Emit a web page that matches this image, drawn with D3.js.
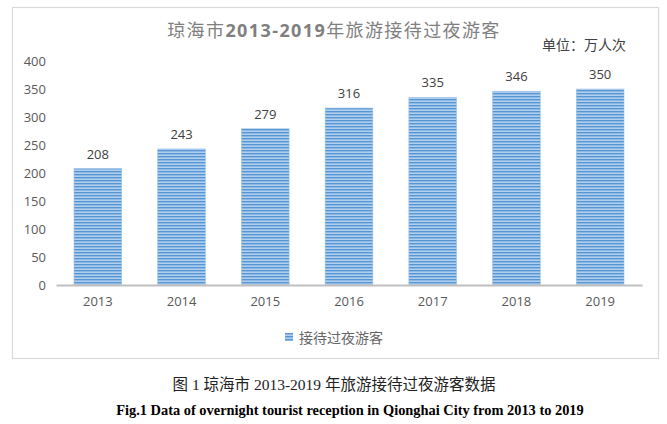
<!DOCTYPE html>
<html><head><meta charset="utf-8">
<script src="https://cdn.jsdelivr.net/npm/d3@7"></script>
<style>body{margin:0;background:#fff;}</style>
</head><body>
<svg id="c" width="667" height="424"></svg>
<script>
const categories = ["2013","2014","2015","2016","2017","2018","2019"];
const values = [208,243,279,316,335,346,350];
const yTicks = [0,50,100,150,200,250,300,350,400];
const seriesName = "接待过夜游客";
const titleParts = [["琼海市",false],["2013-2019",true],["年旅游接待过夜游客",false]];
const unitText = "单位：万人次";
const captionCN = "图 1 琼海市 2013-2019 年旅游接待过夜游客数据";
const captionEN = "Fig.1 Data of overnight tourist reception in Qionghai City from 2013 to 2019";

const svg = d3.select("#c");
const defs = svg.append("defs");
const pat = defs.append("pattern").attr("id","stripe").attr("patternUnits","userSpaceOnUse")
  .attr("width",4).attr("height",3);
pat.append("rect").attr("width",4).attr("height",3).attr("fill","#8db8e3");
pat.append("rect").attr("y",0).attr("width",4).attr("height",1).attr("fill","#5596d3");
pat.append("rect").attr("y",2).attr("width",4).attr("height",1).attr("fill","#b0cfee");

// border
svg.append("rect").attr("x",12.5).attr("y",7.5).attr("width",646).attr("height",351)
  .attr("fill","#fff").attr("stroke","#d9d9d9").attr("stroke-width",1.2);

const x = d3.scaleBand().domain(categories).range([56,642]).paddingInner(0.43).paddingOuter(0.215);
const y = d3.scaleLinear().domain([0,400]).range([285,61]);

// y axis labels
const ya = svg.append("g").attr("transform","translate(46,0)")
  .call(d3.axisLeft(y).tickValues(yTicks).tickSize(0).tickPadding(0));
ya.select(".domain").remove();
ya.selectAll("text").attr("font-family","Open Sans, Liberation Sans, sans-serif").attr("font-size",13).attr("fill","#595959");

// bars
svg.selectAll(".bar").data(values).enter().append("rect")
  .attr("x",(d,i)=>x(categories[i])).attr("y",d=>y(d))
  .attr("width",x.bandwidth()).attr("height",d=>y(0)-y(d))
  .attr("fill","url(#stripe)").attr("stroke","#9dc3e6").attr("stroke-width",0.6);

// x axis
const xa = svg.append("g").attr("transform","translate(0,285)")
  .call(d3.axisBottom(x).tickSize(0).tickPadding(12));
xa.select(".domain").attr("stroke","#bfbfbf").attr("stroke-width",2);
xa.selectAll("text").attr("font-family","Open Sans, Liberation Sans, sans-serif").attr("font-size",13).attr("fill","#595959");

// value labels
svg.selectAll(".vl").data(values).enter().append("text")
  .attr("x",(d,i)=>x(categories[i])+x.bandwidth()/2).attr("y",d=>y(d)-10)
  .attr("text-anchor","middle").attr("font-family","Open Sans, Liberation Sans, sans-serif")
  .attr("font-size",13).attr("fill","#404040").text(d=>d);

// title
const t = svg.append("text").attr("x",334).attr("y",37).attr("text-anchor","middle")
  .attr("font-family","Open Sans, Noto Sans CJK SC, sans-serif").attr("font-size",18)
  .attr("fill","#7f7f7f").attr("letter-spacing",1.4);
titleParts.forEach(p=>{
  t.append("tspan").attr("font-weight",p[1]?"bold":"normal").text(p[0]);
});

svg.append("text").attr("x",584).attr("y",50).attr("text-anchor","middle")
  .attr("font-family","Noto Sans CJK SC, sans-serif").attr("font-size",14)
  .attr("fill","#404040").text(unitText);

// legend
svg.append("rect").attr("x",285).attr("y",333).attr("width",8).attr("height",8).attr("fill","url(#stripe)");
svg.append("text").attr("x",299).attr("y",342.5).attr("font-family","Noto Sans CJK SC, sans-serif")
  .attr("font-size",14).attr("fill","#666").text(seriesName);

// captions
svg.append("text").attr("x",334).attr("y",390).attr("text-anchor","middle")
  .attr("font-family","Liberation Serif, Noto Sans CJK SC, serif").attr("font-size",15.5)
  .attr("fill","#222").text(captionCN);
svg.append("text").attr("x",350).attr("y",415).attr("text-anchor","middle")
  .attr("font-family","Liberation Serif, serif").attr("font-size",14.4).attr("font-weight","bold")
  .attr("fill","#000").text(captionEN);
</script>
</body></html>
